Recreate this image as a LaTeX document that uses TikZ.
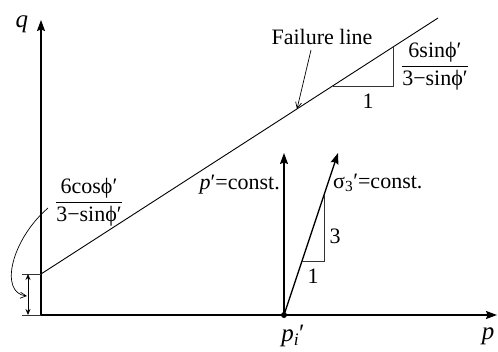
\documentclass[tikz,border=0pt]{standalone}
\usepackage{amsmath}
\usepackage{fontspec}
\setmainfont{Liberation Serif}
\usetikzlibrary{arrows.meta,positioning}

\begin{document}
\begin{tikzpicture}[
  x=1pt, y=1pt,
  font=\fontsize{22}{25}\selectfont,
  axis/.style={line width=1.3pt, -{Stealth[length=11pt,width=8pt,inset=1.5pt]}},
  path/.style={line width=1.3pt, -{Stealth[length=11pt,width=8pt,inset=1.5pt]}},
  fline/.style={line width=0.9pt},
  slope/.style={line width=0.8pt, black!80},
  lead/.style={line width=0.7pt, -{Straight Barb[length=6pt,width=6pt]}},
  dim/.style={line width=0.8pt, {Stealth[length=6pt,width=5pt]}-{Stealth[length=6pt,width=5pt]}},
  lbl/.style={inner sep=1pt},
  big/.style={inner sep=1pt, font=\fontsize{25}{28}\selectfont}
]
  \useasboundingbox (-41,-36) rectangle (457,315);

  % Axes
  \coordinate (O) at (0,0);
  \coordinate (qtip) at (0,295);
  \coordinate (ptip) at (456,0);
  \draw[axis] (O) -- (qtip);
  \draw[axis] (O) -- (ptip);
  \node[big] (qlab) at (-19,291) {\textit{q}};
  \node[big] (plab) at (447,-21) {\textit{p}};

  % Failure line
  \coordinate (fstart) at (0,41);
  \coordinate (fend) at (397,297);
  \draw[fline] (fstart) -- (fend);
  \node[lbl] (flab) at (281,278) {Failure line};
  \coordinate (fhead) at (256,206);
  \draw[lead] (270,265) coordinate (ftail) -- (fhead);

  % Slope of failure line
  \coordinate (sa) at (292,229);
  \coordinate (sb) at (352,229);
  \coordinate (sc) at (352,268);
  \draw[slope] (sa) -- (sb) -- (sc);
  \node[lbl] (srun) at (327,214) {1};
  \node[lbl] (srise) at (394,249) {$\dfrac{\text{6sinϕ′}}{\text{3−sinϕ′}}$};

  % Intercept
  \coordinate (ta) at (-19,41);
  \coordinate (tb) at (-19,0);
  \draw[slope] (ta) -- (fstart);
  \draw[slope] (tb) -- (O);
  \draw[dim] (-13,0) coordinate (da) -- (-13,41) coordinate (db);
  \node[lbl] (ilab) at (48,113) {$\dfrac{\text{6cosϕ′}}{\text{3−sinϕ′}}$};
  \coordinate (cstart) at (7,107);
  \coordinate (cend) at (-14,19);
  \draw[lead] (cstart) .. controls (-30,75) and (-42,22) .. (cend);

  % Stress paths
  \node[circle, fill, inner sep=0pt, minimum size=6pt] (pi) at (243,0) {};
  \node[big] (pilab) at (252,-21) {\textit{p}\textsubscript{\textit{i}}′};
  \coordinate (vtip) at (243,162);
  \coordinate (itip) at (297,162);
  \draw[path] (pi.center) -- (vtip);
  \draw[path] (pi.center) -- (itip);
  \node[lbl, anchor=east] (vlab) at (240,130) {\textit{p}′=const.};
  \node[lbl, anchor=west] (ilab2) at (291,132) {σ\textsubscript{3}′=const.};

  % Slope of inclined path
  \coordinate (ra) at (261,54);
  \coordinate (rb) at (283,54);
  \coordinate (rc) at (283,120);
  \draw[slope] (ra) -- (rb) -- (rc);
  \node[lbl] (rrun) at (272,39) {1};
  \node[lbl] (rrise) at (294,79) {3};
\end{tikzpicture}
\end{document}
